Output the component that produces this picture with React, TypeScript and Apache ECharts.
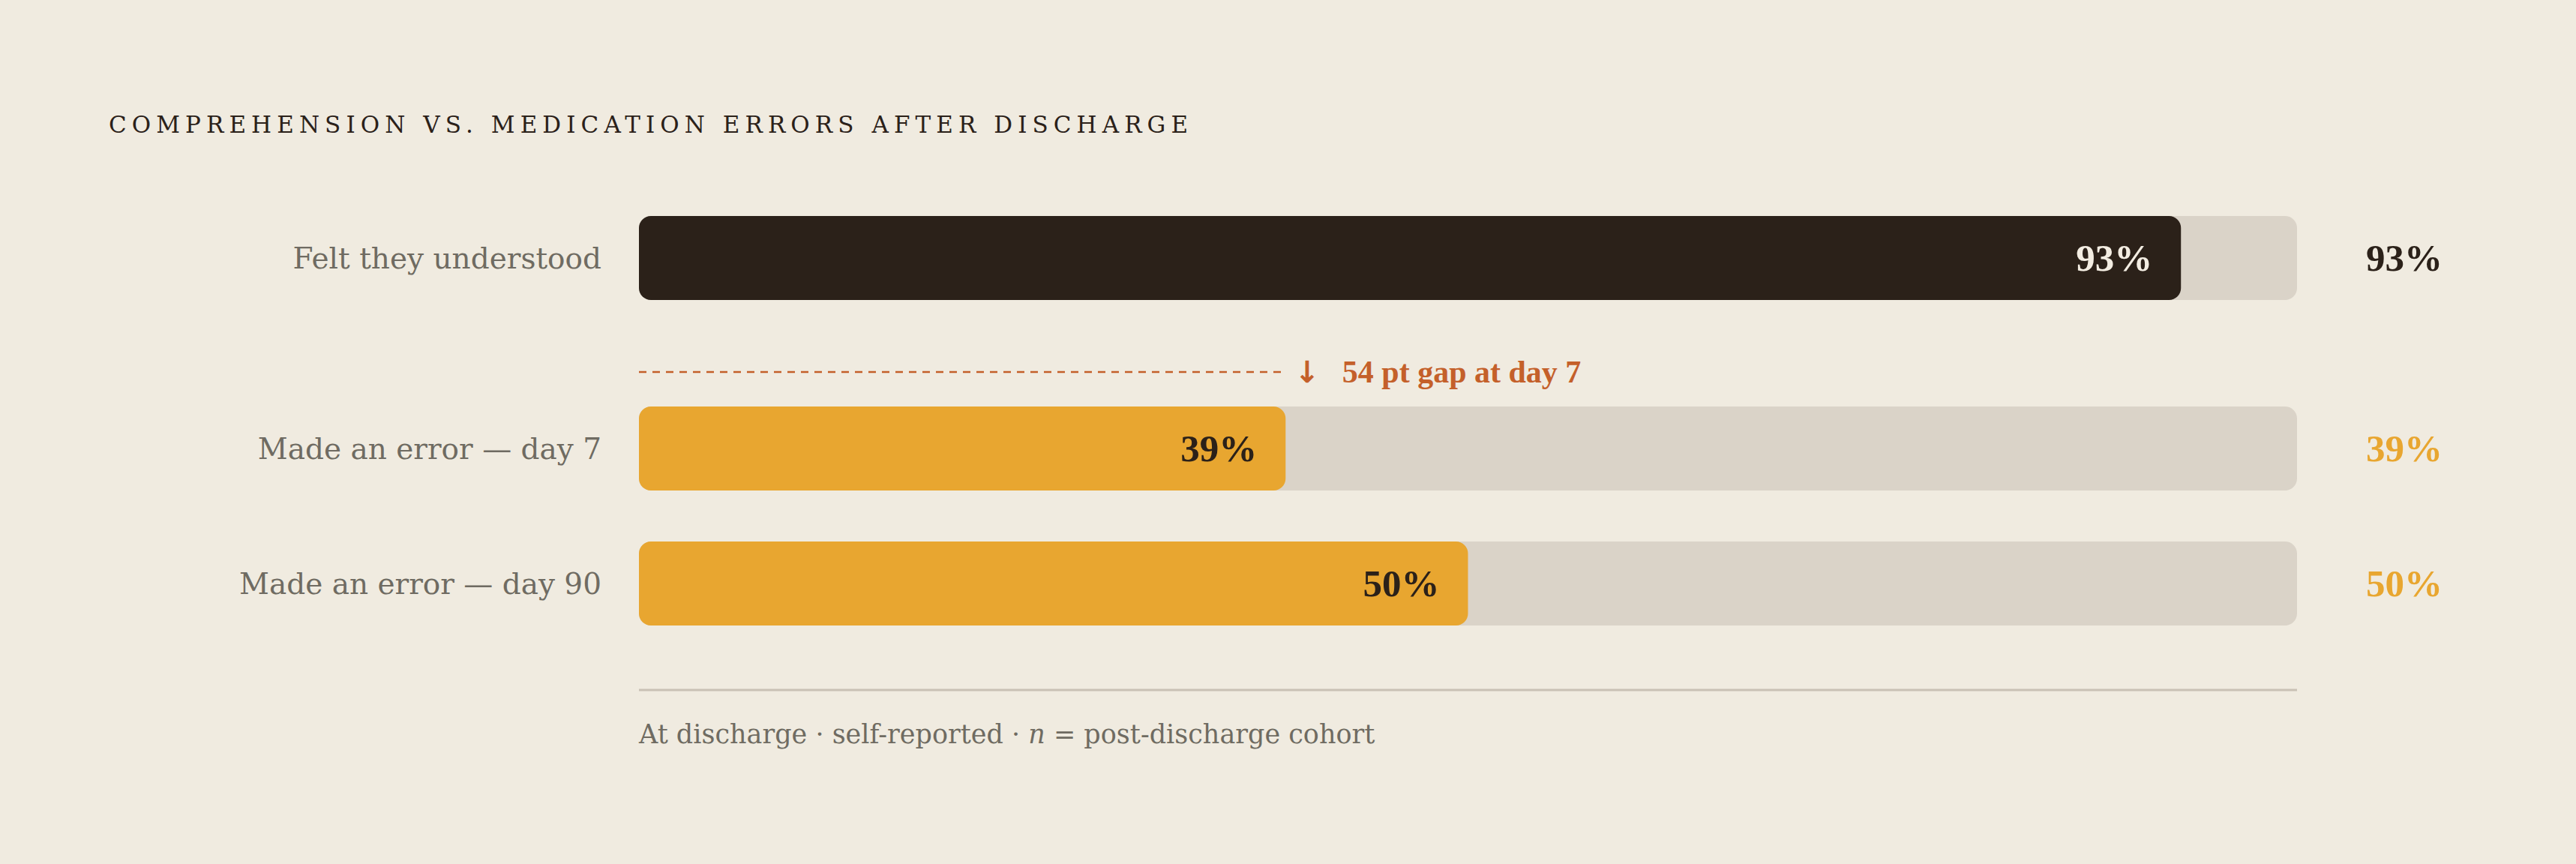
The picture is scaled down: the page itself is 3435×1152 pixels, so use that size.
import React, { useEffect, useRef } from 'react';
import * as echarts from 'echarts';

const categories = ['Felt they understood', 'Made an error — day 7', 'Made an error — day 90'];
const values = [93, 39, 50];
const trackMax = 100;
const barColors = ['#2b2119', '#e8a630', '#e8a630'];
const insideLabelColors = ['#f3ede2', '#2b2119', '#2b2119'];
const outsideLabelColors = ['#2b2119', '#e8a630', '#e8a630'];
const titleText = 'COMPREHENSION VS. MEDICATION ERRORS AFTER DISCHARGE';
const footnoteParts = ['At discharge · self-reported · ', 'n', ' = post-discharge cohort'];
const gapFrom = 0;
const gapTo = 1;
const gapLabelSuffix = ' pt gap at day 7';

const W = 3435;
const H = 1152;
const BG = '#f0ebe0';
const TRACK = '#dad3c8';
const ACCENT = '#c4602a';
const MUTED = '#6f6b62';
const GRID_LEFT = 852;
const GRID_WIDTH = 2211;
const ROW_TOPS = [288, 542, 722];
const BAR_H = 112;
const TITLE_WIDTH = 1439;
const TITLE_SIZE = 31;

export default function App() {
  const ref = useRef<HTMLDivElement>(null);

  useEffect(() => {
    document.body.style.margin = '0';
    document.body.style.background = BG;
    if (!ref.current) return;
    const chart = echarts.init(ref.current, undefined, { renderer: 'svg' });

    const gap = values[gapFrom] - values[gapTo];

    const grids: any[] = ROW_TOPS.map((top) => ({ left: GRID_LEFT, width: GRID_WIDTH, top, height: BAR_H }));
    grids.push({ left: GRID_LEFT, width: GRID_WIDTH, top: 476, height: 40 });

    const xAxes: any[] = grids.map((_, i) => ({ type: 'value', gridIndex: i, min: 0, max: trackMax, show: false }));
    const yAxes: any[] = categories.map((c, i) => ({
      type: 'category',
      gridIndex: i,
      data: [c],
      axisLine: { show: false },
      axisTick: { show: false },
      splitLine: { show: false },
      axisLabel: { margin: 50, fontSize: 39, color: MUTED, fontFamily: 'DejaVu Serif' },
    }));
    yAxes.push({ type: 'value', gridIndex: 3, min: -1, max: 1, show: false });

    const series: any[] = [];
    categories.forEach((_, i) => {
      series.push({
        type: 'bar',
        xAxisIndex: i,
        yAxisIndex: i,
        data: [trackMax],
        barWidth: BAR_H,
        barGap: '-100%',
        silent: true,
        z: 1,
        itemStyle: { color: TRACK, borderRadius: 16 },
        label: {
          show: true,
          position: 'right',
          distance: 92,
          formatter: () => values[i] + '%',
          color: outsideLabelColors[i],
          fontFamily: 'Liberation Serif',
          fontWeight: 'bold',
          fontSize: 51,
        },
      });
      series.push({
        type: 'bar',
        xAxisIndex: i,
        yAxisIndex: i,
        data: [values[i]],
        barWidth: BAR_H,
        barGap: '-100%',
        z: 2,
        itemStyle: { color: barColors[i], borderRadius: 16 },
        label: {
          show: true,
          position: 'insideRight',
          distance: 38,
          formatter: '{c}%',
          color: insideLabelColors[i],
          fontFamily: 'Liberation Serif',
          fontWeight: 'bold',
          fontSize: 51,
        },
      });
    });
    series.push({
      type: 'line',
      xAxisIndex: 3,
      yAxisIndex: 3,
      data: [[0, 0], [values[gapTo], 0]],
      symbol: 'none',
      silent: true,
      lineStyle: { type: [10, 8], width: 2.5, color: ACCENT },
      endLabel: {
        show: true,
        distance: 12,
        formatter: '{a|↓}{b|' + gap + gapLabelSuffix + '}',
        rich: {
          a: { fontFamily: 'DejaVu Sans', fontSize: 40, fontWeight: 'bold', color: ACCENT },
          b: { fontFamily: 'Liberation Serif', fontWeight: 'bold', fontSize: 42, color: ACCENT, padding: [0, 0, 0, 30] },
        },
      },
    });

    const option: any = {
      animation: false,
      backgroundColor: BG,
      grid: grids,
      xAxis: xAxes,
      yAxis: yAxes,
      series,
      graphic: [
        {
          type: 'text',
          x: 145,
          y: 166,
          style: {
            text: titleText,
            fill: '#2b2119',
            fontFamily: 'DejaVu Serif',
            fontSize: TITLE_SIZE,
            align: 'left',
            verticalAlign: 'middle',
          },
        },
        {
          type: 'line',
          shape: { x1: GRID_LEFT, y1: 920, x2: GRID_LEFT + GRID_WIDTH, y2: 920 },
          style: { stroke: '#c9c1b5', lineWidth: 3 },
        },
        {
          type: 'text',
          x: GRID_LEFT,
          y: 979,
          style: {
            text: '{t|' + footnoteParts[0] + '}{i|' + footnoteParts[1] + '}{t|' + footnoteParts[2] + '}',
            align: 'left',
            verticalAlign: 'middle',
            rich: {
              t: { fontFamily: 'DejaVu Serif', fontSize: 35, fill: MUTED, color: MUTED },
              i: { fontFamily: 'DejaVu Serif', fontStyle: 'italic', fontSize: 35, fill: MUTED, color: MUTED },
            },
          },
        },
      ],
    };

    chart.setOption(option);

    const applySpacing = () => {
      const canvas = document.createElement('canvas');
      const ctx = canvas.getContext('2d');
      if (!ctx || !ref.current) return;
      ctx.font = TITLE_SIZE + 'px "DejaVu Serif"';
      const w = ctx.measureText(titleText).width;
      const ls = Math.max(0, (TITLE_WIDTH - w) / (titleText.length - 1));
      ref.current.querySelectorAll('text').forEach((t) => {
        if (t.textContent === titleText) t.setAttribute('letter-spacing', ls.toFixed(2));
      });
    };
    applySpacing();
    chart.on('finished', applySpacing);

    return () => {
      chart.dispose();
    };
  }, []);

  return <div ref={ref} style={{ width: W, height: H, background: BG }} />;
}
